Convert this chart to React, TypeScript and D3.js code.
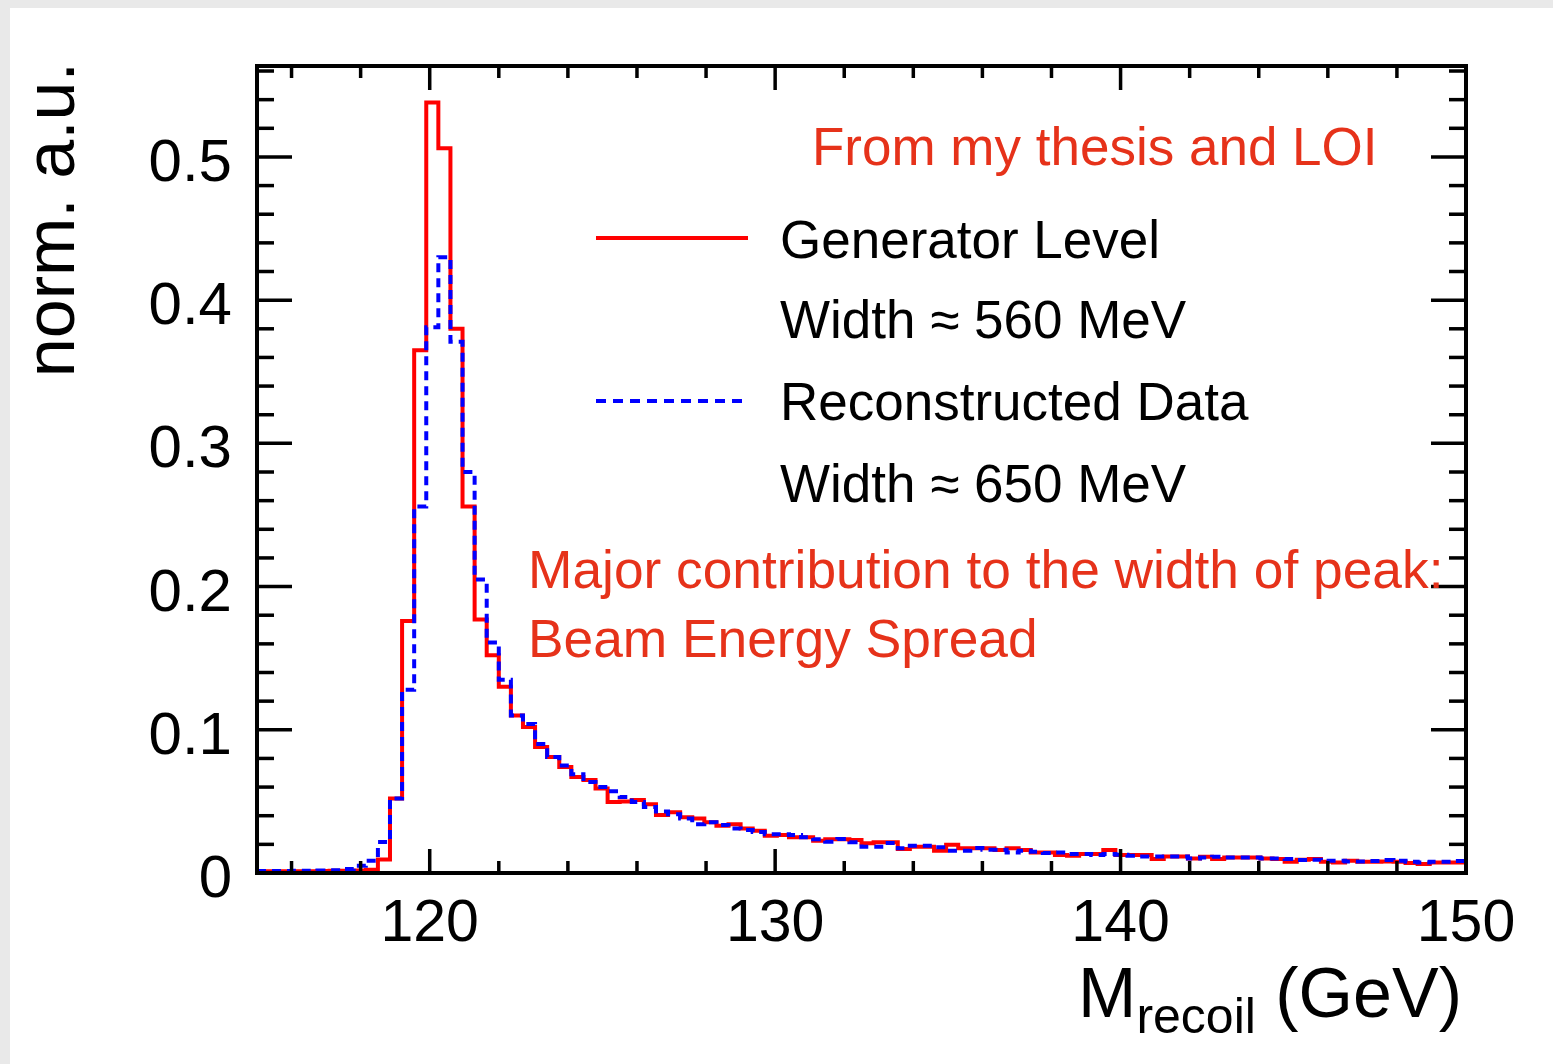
import React from "react";
import * as d3 from "d3";

const X_MIN = 115;
const X_MAX = 150;
const N_BINS = 100;
const Y_MAX = 0.5635;

const generatorLevel = [
  0.0012, 0.0012, 0.0012, 0.0013, 0.0013, 0.0014, 0.0015, 0.0016, 0.0018, 0.0023,
  0.0095, 0.052, 0.176, 0.365, 0.538, 0.506, 0.38, 0.256, 0.177, 0.152,
  0.13, 0.11, 0.102, 0.088, 0.081, 0.074, 0.067, 0.065, 0.059, 0.0495,
  0.05, 0.051, 0.048, 0.0405, 0.0425, 0.039, 0.038, 0.0355, 0.033, 0.034,
  0.031, 0.0295, 0.026, 0.0265, 0.025, 0.025, 0.0225, 0.0235, 0.0235, 0.023,
  0.0207, 0.0214, 0.0214, 0.0168, 0.0184, 0.0184, 0.0156, 0.0198, 0.0172, 0.0172,
  0.0172, 0.0161, 0.0172, 0.0161, 0.0144, 0.0144, 0.0126, 0.0121, 0.0133, 0.0133,
  0.0161, 0.0126, 0.0126, 0.0126, 0.0098, 0.0116, 0.0116, 0.0102, 0.0114, 0.0098,
  0.0109, 0.0109, 0.0109, 0.0102, 0.0098, 0.0079, 0.0093, 0.0098, 0.0079, 0.0074,
  0.0086, 0.0079, 0.0079, 0.0081, 0.0079, 0.007, 0.0063, 0.0074, 0.0074, 0.0074,
];

const reconstructed = [
  0.0014, 0.0014, 0.0014, 0.0015, 0.0016, 0.0018, 0.002, 0.0028, 0.005, 0.0086,
  0.0216, 0.052, 0.128, 0.256, 0.381, 0.43, 0.371, 0.28, 0.205, 0.161,
  0.135, 0.11, 0.104, 0.09, 0.081, 0.075, 0.069, 0.0635, 0.06, 0.057,
  0.053, 0.0495, 0.046, 0.043, 0.041, 0.038, 0.034, 0.0355, 0.0335, 0.031,
  0.03, 0.0287, 0.027, 0.027, 0.0265, 0.025, 0.0235, 0.0219, 0.0237, 0.0214,
  0.0184, 0.0184, 0.0209, 0.0172, 0.019, 0.019, 0.0179, 0.0156, 0.0156, 0.0175,
  0.0163, 0.0163, 0.0144, 0.0156, 0.0149, 0.014, 0.0144, 0.0133, 0.0133, 0.0126,
  0.0133, 0.0128, 0.0121, 0.0116, 0.0116, 0.0116, 0.0116, 0.0102, 0.0109, 0.0114,
  0.0109, 0.0109, 0.0109, 0.0102, 0.0102, 0.0098, 0.009, 0.0093, 0.0086, 0.0086,
  0.0081, 0.0081, 0.0084, 0.009, 0.0086, 0.0079, 0.0074, 0.0079, 0.0079, 0.0084,
];

const xMajorTicks = [120, 130, 140, 150];
const xMajorLabels = ["120", "130", "140", "150"];
const yMajorTicks = [0, 0.1, 0.2, 0.3, 0.4, 0.5];
const yMajorLabels = ["0", "0.1", "0.2", "0.3", "0.4", "0.5"];

const legendLabels = [
  "Generator Level",
  "Width \u2248 560 MeV",
  "Reconstructed Data",
  "Width \u2248 650 MeV",
];
const noteTop = "From my thesis and LOI";
const noteLines = ["Major contribution to the width of peak:", "Beam Energy Spread"];

const W = 1553;
const H = 1064;
const FONT = "'Liberation Sans', Arial, Helvetica, sans-serif";
const NOTE_RED = "#e6321a";

export default function App() {
  const left = 257, right = 1466, top = 66, bottom = 873;
  const x = d3.scaleLinear().domain([X_MIN, X_MAX]).range([left, right]);
  const y = d3.scaleLinear().domain([0, Y_MAX]).range([bottom, top]);
  const binW = (X_MAX - X_MIN) / N_BINS;

  const toPts = (vals: number[]) => {
    const pts: [number, number][] = vals.map((v, i) => [X_MIN + i * binW, v]);
    pts.push([X_MAX, vals[vals.length - 1]]);
    return pts;
  };
  const line = d3
    .line<[number, number]>()
    .x((d) => x(d[0]))
    .y((d) => y(d[1]))
    .curve(d3.curveStepAfter);

  const xMinor = d3.range(116, 150, 2).filter((v) => v % 10 !== 0);
  const yMinor = d3.range(0, 0.5601, 0.02).filter((v) => Math.abs(v * 10 - Math.round(v * 10)) > 1e-6);

  const tk = { stroke: "#000", strokeWidth: 3.5 };

  return (
    <svg
      width={W}
      height={H}
      style={{ position: "fixed", left: 0, top: 0, display: "block" }}
      fontFamily={FONT}
    >
      <rect x={0} y={0} width={W} height={H} fill="#e9e9e9" />
      <rect x={10} y={8} width={W - 10} height={H - 8} fill="#ffffff" />
      <defs>
        <clipPath id="frameClip">
          <rect x={left} y={top} width={right - left} height={bottom - top} />
        </clipPath>
      </defs>

      <g clipPath="url(#frameClip)">
        <path d={line(toPts(generatorLevel)) || ""} fill="none" stroke="#ff0000" strokeWidth={4} />
        <path
          d={line(toPts(reconstructed)) || ""}
          fill="none"
          stroke="#0000ff"
          strokeWidth={4}
          strokeDasharray="9 6"
        />
      </g>

      {xMinor.map((v) => (
        <g key={"xm" + v}>
          <line x1={x(v)} x2={x(v)} y1={bottom} y2={bottom - 12} {...tk} />
          <line x1={x(v)} x2={x(v)} y1={top} y2={top + 12} {...tk} />
        </g>
      ))}
      {xMajorTicks.map((v) => (
        <g key={"xM" + v}>
          <line x1={x(v)} x2={x(v)} y1={bottom} y2={bottom - 24} {...tk} />
          <line x1={x(v)} x2={x(v)} y1={top} y2={top + 24} {...tk} />
        </g>
      ))}
      {yMinor.map((v) => (
        <g key={"ym" + v}>
          <line x1={left} x2={left + 17} y1={y(v)} y2={y(v)} {...tk} />
          <line x1={right} x2={right - 17} y1={y(v)} y2={y(v)} {...tk} />
        </g>
      ))}
      {yMajorTicks.map((v) => (
        <g key={"yM" + v}>
          <line x1={left} x2={left + 35} y1={y(v)} y2={y(v)} {...tk} />
          <line x1={right} x2={right - 35} y1={y(v)} y2={y(v)} {...tk} />
        </g>
      ))}

      <rect
        x={left}
        y={top}
        width={right - left}
        height={bottom - top}
        fill="none"
        stroke="#000"
        strokeWidth={4}
      />

      {xMajorTicks.map((v, i) => (
        <text key={"xl" + v} x={x(v)} y={941} textAnchor="middle" fontSize={59} fill="#000">
          {xMajorLabels[i]}
        </text>
      ))}
      {yMajorTicks.map((v, i) => (
        <text key={"yl" + v} x={232} y={y(v) + 24} textAnchor="end" fontSize={60} fill="#000">
          {yMajorLabels[i]}
        </text>
      ))}

      <text x={1462} y={1017} textAnchor="end" fontSize={70} fill="#000">
        M
        <tspan fontSize={50} dy={16}>recoil</tspan>
        <tspan dy={-16}> (GeV)</tspan>
      </text>
      <text
        transform="translate(74,62) rotate(-90)"
        textAnchor="end"
        fontSize={70}
        fill="#000"
      >
        norm. a.u.
      </text>

      <line x1={596} x2={748} y1={238} y2={238} stroke="#ff0000" strokeWidth={4} />
      <line x1={596} x2={742} y1={401} y2={401} stroke="#0000ff" strokeWidth={4} strokeDasharray="10 7" />
      <text x={780} y={258} fontSize={53} fill="#000">{legendLabels[0]}</text>
      <text x={780} y={338} fontSize={53} fill="#000">{legendLabels[1]}</text>
      <text x={780} y={420} fontSize={53} fill="#000">{legendLabels[2]}</text>
      <text x={780} y={502} fontSize={53} fill="#000">{legendLabels[3]}</text>

      <text x={812} y={165} fontSize={53} fill={NOTE_RED}>{noteTop}</text>
      <text x={528} y={588} fontSize={53.3} fill={NOTE_RED}>{noteLines[0]}</text>
      <text x={528} y={657} fontSize={53.3} fill={NOTE_RED}>{noteLines[1]}</text>
    </svg>
  );
}
